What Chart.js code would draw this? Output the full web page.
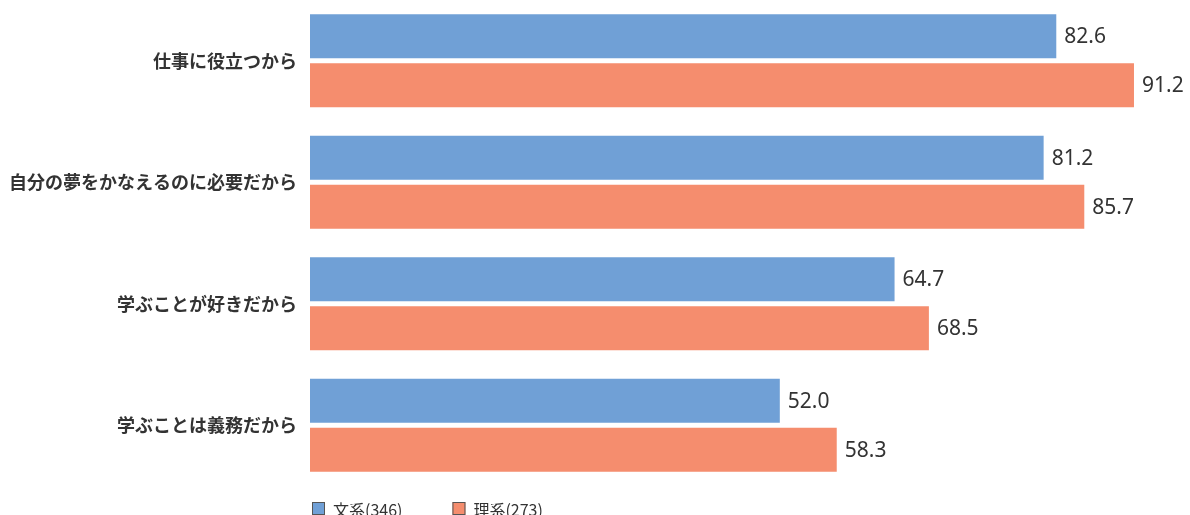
<!DOCTYPE html>
<html lang="ja">
<head>
<meta charset="utf-8">
<title>学ぶ理由</title>
<script src="https://cdn.jsdelivr.net/npm/chart.js@4.4.1/dist/chart.umd.min.js"></script>
<style>
  html, body { margin: 0; padding: 0; background: #ffffff; }
  #wrap { width: 1190px; height: 515px; }
</style>
</head>
<body>
<div id="wrap"><canvas id="chart" width="1190" height="515"></canvas></div>
<script>
// Reasons for studying, by course (%)
const categories = [
  '仕事に役立つから',
  '自分の夢をかなえるのに必要だから',
  '学ぶことが好きだから',
  '学ぶことは義務だから'
];
const seriesNames = ['文系(346)', '理系(273)'];
const bunkei = [82.6, 81.2, 64.7, 52.0];
const rikei = [91.2, 85.7, 68.5, 58.3];
const seriesColors = ['#70a0d6', '#f58d6e'];

const CJK = '"Noto Sans CJK JP", "Noto Sans", sans-serif';
const TEXT = '#333333';

// Value printed just past the end of each bar
const valueLabels = {
  id: 'valueLabels',
  afterDatasetsDraw(chart) {
    const ctx = chart.ctx;
    ctx.save();
    ctx.font = '21px "Noto Sans", ' + CJK;
    ctx.fillStyle = TEXT;
    ctx.textAlign = 'left';
    ctx.textBaseline = 'middle';
    chart.data.datasets.forEach((ds, di) => {
      const meta = chart.getDatasetMeta(di);
      meta.data.forEach((bar, i) => {
        ctx.fillText(ds.data[i].toFixed(1), bar.x + 8, bar.y + 1);
      });
    });
    ctx.restore();
  }
};

// Legend row under the plot, starting at the plot's left edge
const bottomLegend = {
  id: 'bottomLegend',
  afterDraw(chart) {
    const ctx = chart.ctx;
    const area = chart.chartArea;
    ctx.save();
    ctx.font = '16px ' + CJK;
    ctx.textBaseline = 'middle';
    ctx.textAlign = 'left';
    let x = area.left + 2;
    const boxTop = 502;
    const box = 13;
    chart.data.datasets.forEach((ds) => {
      ctx.fillStyle = ds.backgroundColor;
      ctx.fillRect(x, boxTop, box, box);
      ctx.strokeStyle = '#555555';
      ctx.lineWidth = 1;
      ctx.strokeRect(x + 0.5, boxTop + 0.5, box - 1, box - 1);
      ctx.fillStyle = TEXT;
      ctx.fillText(ds.label, x + box + 8, boxTop + box / 2 + 1);
      x += box + 8 + ctx.measureText(ds.label).width + 50;
    });
    ctx.restore();
  }
};

new Chart(document.getElementById('chart'), {
  type: 'bar',
  data: {
    labels: categories,
    datasets: [
      { label: seriesNames[0], data: bunkei, backgroundColor: seriesColors[0] },
      { label: seriesNames[1], data: rikei, backgroundColor: seriesColors[1] }
    ]
  },
  options: {
    indexAxis: 'y',
    responsive: false,
    animation: false,
    devicePixelRatio: 1,
    layout: { padding: { top: 0, right: 0, bottom: 29, left: 0 } },
    datasets: {
      bar: { categoryPercentage: 0.805, barPercentage: 0.9, borderWidth: 0 }
    },
    scales: {
      x: {
        display: false,
        min: 0,
        max: 97.4
      },
      y: {
        afterFit(scale) {
          scale.width = 310;
          scale.paddingTop = 0;
          scale.paddingBottom = 0;
        },
        grid: { display: false, drawTicks: false },
        border: { display: false },
        ticks: {
          padding: 13,
          color: TEXT,
          font: { family: CJK, size: 18, weight: 'bold' }
        }
      }
    },
    plugins: {
      legend: { display: false },
      tooltip: { enabled: false }
    }
  },
  plugins: [valueLabels, bottomLegend]
});
</script>
</body>
</html>
